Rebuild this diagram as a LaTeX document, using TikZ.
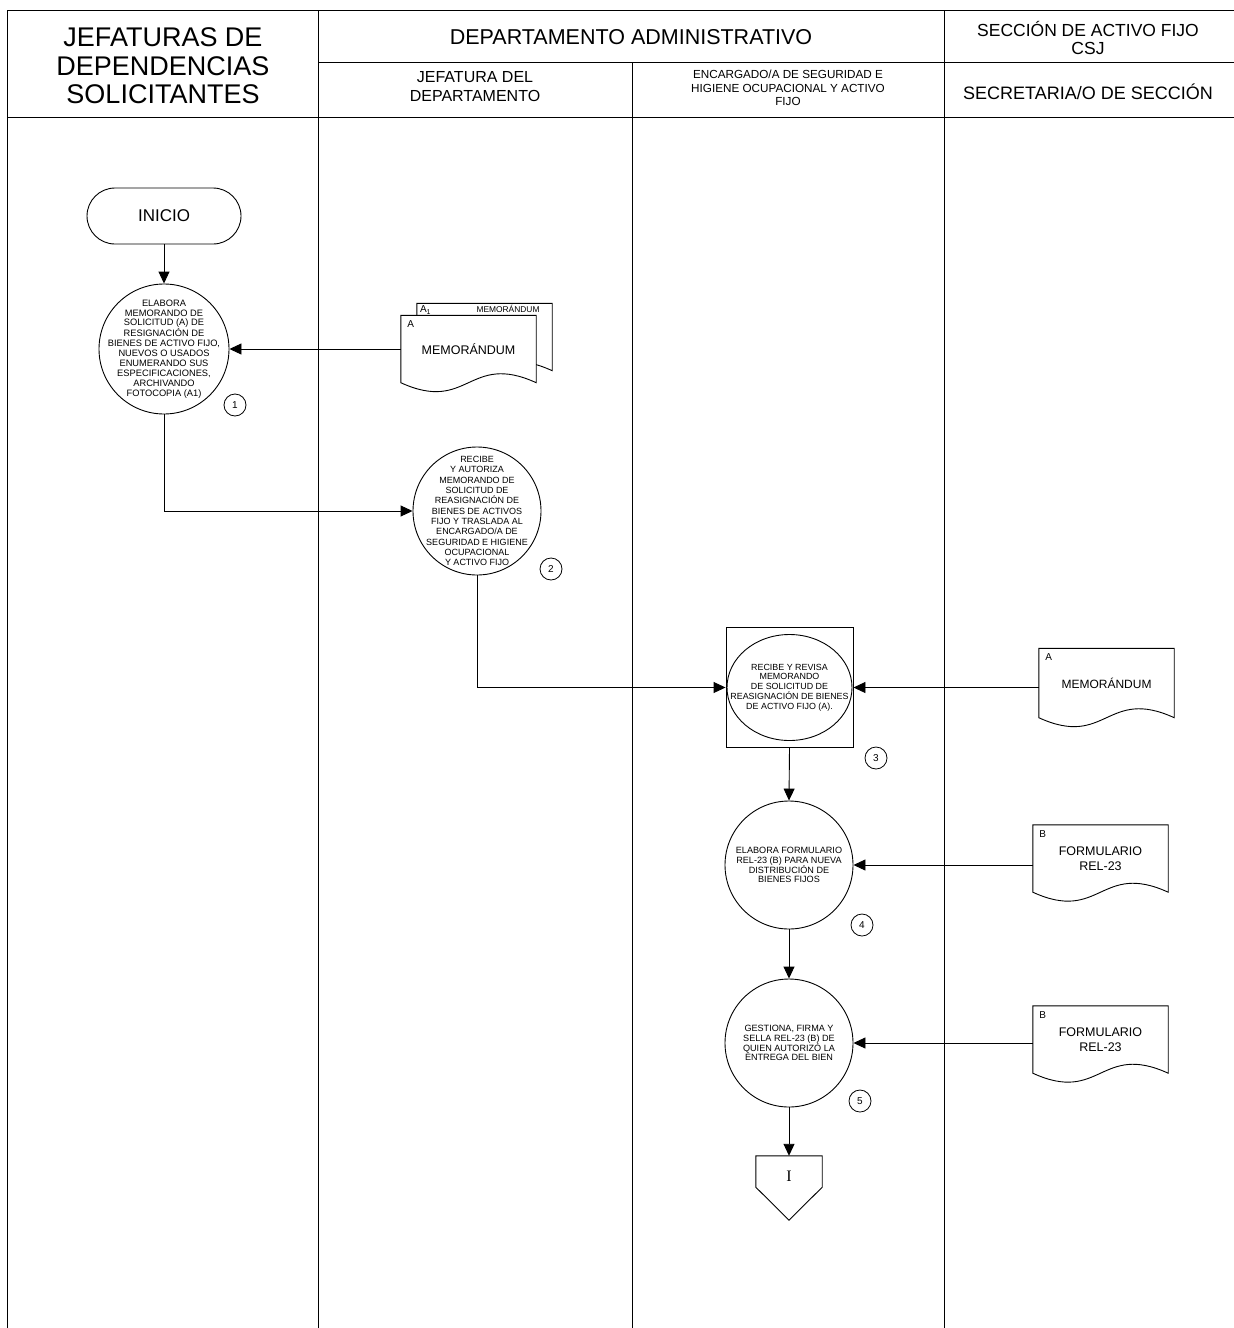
\documentclass[tikz,border=0pt]{standalone}
\usepackage{fontspec}
\setmainfont{Liberation Sans}
\newfontfamily\serifI{Liberation Serif}
\usetikzlibrary{arrows.meta,calc,shapes.geometric}
\newcommand\docshape[1]{\draw[line,fill=white] (#1.south west) -- (#1.north west) -- (#1.north east) -- (#1.south east) .. controls ($(#1.south)+(0,-31)$) and ($(#1.south)+(0,31)$) .. (#1.south west) -- cycle;}
\begin{document}
\begin{tikzpicture}[x=1pt,y=-1pt,
  line/.style={line width=0.9pt},
  arr/.style={line width=0.9pt,-{Triangle[length=12pt,width=11pt]}},
  proc/.style={circle,draw,line width=0.9pt,minimum size=128pt,inner sep=0pt},
  ptext/.style={align=center,inner sep=0pt,font=\fontsize{9.1}{9.8}\selectfont},
  num/.style={circle,draw,line width=0.8pt,minimum size=22pt,inner sep=0pt,font=\fontsize{10}{12}\selectfont},
  docbox/.style={minimum width=135pt,minimum height=67pt,inner sep=0pt},
  lbl/.style={inner sep=0pt,font=\fontsize{10}{12}\selectfont},
  dtext/.style={inner sep=0pt,align=center,font=\fontsize{12.5}{15}\selectfont},
  head/.style={inner sep=0pt,align=center}
]
\useasboundingbox (0,0) rectangle (1234,1328);
% lanes
\draw[line] (7,10) -- (1234,10);
\draw[line] (318,62) -- (1234,62);
\draw[line] (7,117) -- (1234,117);
\draw[line] (7,10) -- (7,1328);
\draw[line] (318,10) -- (318,1328);
\draw[line] (632,62) -- (632,1328);
\draw[line] (944,10) -- (944,1328);
% headers
\node[head,font=\fontsize{27}{28.5}\selectfont] (h1) at (163,66) {JEFATURAS DE\\DEPENDENCIAS\\SOLICITANTES};
\node[head,font=\fontsize{21.5}{24}\selectfont] (h2) at (631,37) {DEPARTAMENTO ADMINISTRATIVO};
\node[head,font=\fontsize{17.5}{18}\selectfont] (h3) at (1088,38) {SECCIÓN DE ACTIVO FIJO\\CSJ};
\node[head,font=\fontsize{16}{19}\selectfont] (h4) at (475,87) {JEFATURA DEL\\DEPARTAMENTO};
\node[head,font=\fontsize{11.7}{13.5}\selectfont] (h5) at (788,88) {ENCARGADO/A DE SEGURIDAD E\\HIGIENE OCUPACIONAL Y ACTIVO\\FIJO};
\node[head,font=\fontsize{18}{20}\selectfont] (h6) at (1088,92) {SECRETARIA/O DE SECCIÓN};
% start
\node[draw,line,rounded corners=28pt,minimum width=154pt,minimum height=56pt,inner sep=0pt,font=\fontsize{17}{20}\selectfont] (ini) at (164,216) {INICIO};
% step 1
\node[proc,minimum size=130pt] (c1) at (164,349) {};
\node[ptext,font=\fontsize{9.3}{9.9}\selectfont] (c1t) at (c1) {ELABORA\\MEMORANDO DE\\SOLICITUD (A) DE\\RESIGNACIÓN DE\\BIENES DE ACTIVO FIJO,\\NUEVOS O USADOS\\ENUMERANDO SUS\\ESPECIFICACIONES,\\ARCHIVANDO\\FOTOCOPIA (A1)};
\node[num] (n1) at (235,405) {1};
% documents A / A1
\node[docbox] (d1b) at (484.5,337) {};
\node[docbox] (d1f) at (468.5,349) {};
\docshape{d1b}
\docshape{d1f}
\node[lbl,anchor=west] (d1ba) at ($(d1b.north west)+(3,7)$) {A\textsubscript{1}};
\node[inner sep=0pt,font=\fontsize{8.4}{10}\selectfont] (d1bt) at (508,309) {MEMORÁNDUM};
\node[lbl] (d1fa) at ($(d1f.north west)+(10,9)$) {A};
\node[dtext] (d1ft) at (d1f) {MEMORÁNDUM};
% step 2
\node[proc] (c2) at (477,511) {};
\node[ptext,font=\fontsize{9}{10.3}\selectfont] (c2t) at (c2) {RECIBE\\Y AUTORIZA\\MEMORANDO DE\\SOLICITUD DE\\REASIGNACIÓN DE\\BIENES DE ACTIVOS\\FIJO Y TRASLADA AL\\ENCARGADO/A DE\\SEGURIDAD E HIGIENE\\OCUPACIONAL\\Y ACTIVO FIJO};
\node[num] (n2) at (551,569) {2};
% step 3
\node[draw,line,minimum width=127pt,minimum height=120pt,inner sep=0pt] (sq3) at (789.5,687.5) {};
\node[ellipse,draw,line,minimum width=125pt,minimum height=106pt,inner sep=0pt] (c3) at (789.5,687.5) {};
\node[ptext,font=\fontsize{8.9}{9.8}\selectfont] (c3t) at (c3) {RECIBE Y REVISA\\MEMORANDO\\DE SOLICITUD DE\\REASIGNACIÓN DE BIENES\\DE ACTIVO FIJO (A).};
\node[num] (n3) at (876,758) {3};
\node[docbox,minimum height=69pt] (d3) at (1106.5,683) {};
\docshape{d3}
\node[lbl] (d3a) at ($(d3.north west)+(10,9)$) {A};
\node[dtext,font=\fontsize{12}{15}\selectfont] (d3t) at (d3) {MEMORÁNDUM};
% step 4
\node[proc] (c4) at (789,865) {};
\node[ptext] (c4t) at (c4) {ELABORA FORMULARIO\\REL-23 (B) PARA NUEVA\\DISTRIBUCIÓN DE\\BIENES FIJOS};
\node[num] (n4) at (862,925) {4};
\node[docbox] (d4) at (1100.5,858.5) {};
\docshape{d4}
\node[lbl] (d4a) at ($(d4.north west)+(10,9)$) {B};
\node[dtext,font=\fontsize{12.5}{15}\selectfont] (d4t) at (d4) {FORMULARIO\\REL-23};
% step 5
\node[proc] (c5) at (789,1043) {};
\node[ptext] (c5t) at (c5) {GESTIONA, FIRMA Y\\SELLA REL-23 (B) DE\\QUIEN AUTORIZÓ LA\\ENTREGA DEL BIEN};
\node[num] (n5) at (860,1101) {5};
\node[docbox] (d5) at (1100.5,1039.5) {};
\docshape{d5}
\node[lbl] (d5a) at ($(d5.north west)+(10,9)$) {B};
\node[dtext,font=\fontsize{12.5}{15}\selectfont] (d5t) at (d5) {FORMULARIO\\REL-23};
% off-page connector
\node[minimum width=66pt,minimum height=31pt,inner sep=0pt] (off) at (789,1171.5) {};
\draw[line] (off.south west) -- (off.north west) -- (off.north east) -- (off.south east) -- ($(off.south)+(0,33)$) -- cycle;
\node[inner sep=0pt,font=\serifI\fontsize{16}{18}\selectfont] (offt) at ($(off.center)+(0,5)$) {I};
% connectors
\draw[arr] (ini) -- (c1);
\draw[arr] (d1f.west) -- (c1.east);
\draw[arr] (c1.south) |- (c2.west);
\draw[arr] (c2.south) |- (sq3.west);
\draw[arr] (d3.west |- sq3.east) -- (sq3.east);
\draw[arr] (sq3.south) -- (c4.north);
\draw[arr] (d4.west |- c4.east) -- (c4.east);
\draw[arr] (c4.south) -- (c5.north);
\draw[arr] (d5.west |- c5.east) -- (c5.east);
\draw[arr] (c5.south) -- (off.north);
\end{tikzpicture}
\end{document}
